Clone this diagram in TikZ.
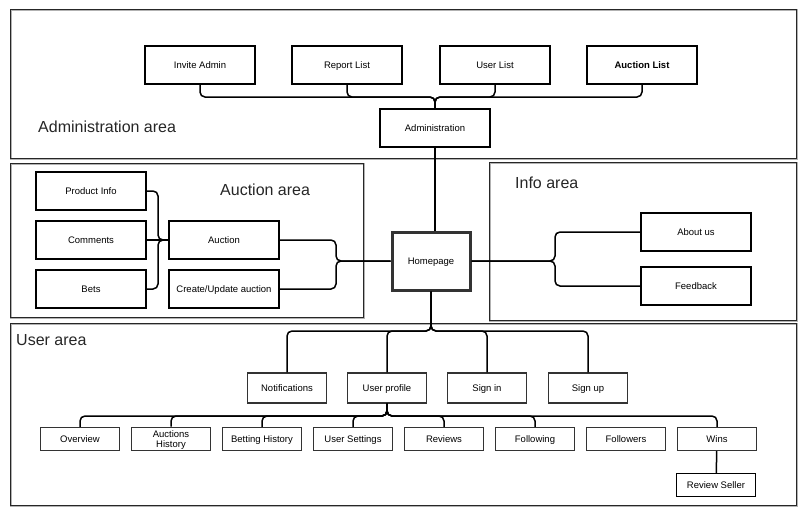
\documentclass[tikz,border=0pt]{standalone}
\usepackage{fontspec}
\setmainfont{Liberation Sans}
\begin{document}
\begin{tikzpicture}[x=1pt, y=-1pt,
    area/.style={draw=black!85, line width=0.8pt,
      preaction={draw=gray!60, line width=1.6pt, transform canvas={shift={(1pt,-1pt)}}}},
    zone/.style={anchor=west, inner sep=0pt, font=\fontsize{16}{19}\selectfont, text=black!85},
    var/.style={draw, rectangle, line width=1.4pt, minimum width=110pt, minimum height=38pt, inner sep=2pt,
      text height=8pt, text depth=1.2pt, font=\fontsize{9.5}{11}\selectfont},
    sub/.style={var, draw=black!80, minimum width=79pt, minimum height=30pt},
    leaf/.style={sub, minimum height=23pt},
    link/.style={line width=1.5pt, rounded corners=5pt}]

  \useasboundingbox (0,0) rectangle (809,517);

  % areas
  \draw[area] (10,9) rectangle (796,158);
  \draw[area] (10,163) rectangle (363,317);
  \draw[area] (489,162) rectangle (796,320);
  \draw[area] (10,323) rectangle (796,505);
  \node[zone] (adminlbl) at (38,127) {Administration area};
  \node[zone] (auclbl) at (220,190) {Auction area};
  \node[zone] (infolbl) at (515,183) {Info area};
  \node[zone] (userlbl) at (16,340) {User area};

  % admin
  \node[var] (invite) at (200,65) {Invite Admin};
  \node[var] (report) at (347,65) {Report List};
  \node[var] (ulist) at (495,65) {User List};
  \node[var] (alist) at (642,65) {\bfseries Auction List};
  \node[var] (adm) at (435,128) {Administration};

  \node[var, minimum width=78pt, minimum height=58pt, line width=3pt, draw=black!80] (home) at (431,261) {Homepage};

  % auction
  \node[var] (pinfo) at (91,191) {Product Info};
  \node[var] (comm) at (91,240) {Comments};
  \node[var] (bets) at (91,289) {Bets};
  \node[var] (auc) at (224,240) {Auction};
  \node[var] (cua) at (224,289) {Create/Update auction};

  % info
  \node[var] (about) at (696,232) {About us};
  \node[var] (feed) at (696,286) {Feedback};

  % user
  \node[sub] (notif) at (287,388) {Notifications};
  \node[sub] (uprof) at (387,388) {User profile};
  \node[sub] (signin) at (487,388) {Sign in};
  \node[sub] (signup) at (588,388) {Sign up};

  \node[leaf] (overview) at (80,439) {Overview};
  \node[leaf, align=center, text height=18pt, text depth=1.2pt, font=\fontsize{9.5}{10}\selectfont] (ahist) at (171,439) {Auctions\\History};
  \node[leaf] (bhist) at (262,439) {Betting History};
  \node[leaf] (uset) at (353,439) {User Settings};
  \node[leaf] (reviews) at (444,439) {Reviews};
  \node[leaf] (follow) at (535,439) {Following};
  \node[leaf] (followers) at (626,439) {Followers};
  \node[leaf] (wins) at (717,439) {Wins};
  \node[leaf, draw=black] (rseller) at (716,485) {Review Seller};

  % connectors
  \coordinate (abus) at (435,97);
  \foreach \n in {invite,report,ulist,alist}
    \draw[link] (\n.south) |- (abus) -- (adm.north);
  \draw[link] (adm.south) -- (adm.south |- home.north);

  \coordinate (pjoin) at (158,240);
  \foreach \n in {pinfo,bets}
    \draw[link] (\n.east) -| (pjoin) -- (auc.west);
  \draw[link] (comm.east) -- (auc.west);
  \coordinate (ajoin) at (336,261);
  \foreach \n in {auc,cua}
    \draw[link] (\n.east) -| (ajoin) -- (home.west);

  \coordinate (ijoin) at (555,261);
  \foreach \n in {about,feed}
    \draw[link] (home.east) -- (ijoin) |- (\n.west);

  \coordinate (ubus) at (431,331);
  \foreach \n in {notif,uprof,signin,signup}
    \draw[link] (home.south) -- (ubus) -| (\n.north);
  \coordinate (pbus) at (387,416);
  \foreach \n in {overview,ahist,bhist,uset,reviews,follow,wins}
    \draw[link] (uprof.south) -- (pbus) -| (\n.north);
  \draw[link] (wins) -- (rseller);
\end{tikzpicture}
\end{document}
